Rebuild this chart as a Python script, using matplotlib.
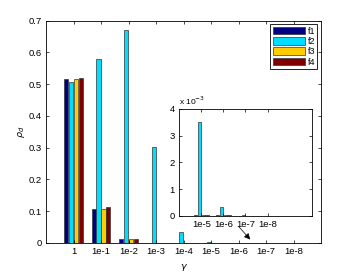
import numpy as np
import matplotlib
matplotlib.use('Agg')
import matplotlib.pyplot as plt
from matplotlib.ticker import FuncFormatter

plt.rcParams['font.family'] = ['Liberation Sans', 'DejaVu Sans']
plt.rcParams['font.size'] = 6.8

# data
gammas = ['1', '1e-1', '1e-2', '1e-3', '1e-4', '1e-5', '1e-6', '1e-7', '1e-8']
series = ['f1', 'f2', 'f3', 'f4']
f1 = [0.515, 0.107, 0.012, 0.0008, 0.0002, 0.00003, 0.00002, 0.00001, 0.00001]
f2 = [0.507, 0.580, 0.670, 0.303, 0.036, 0.0035, 0.00035, 0.00003, 0.00001]
f3 = [0.515, 0.107, 0.011, 0.0008, 0.0002, 0.00003, 0.00002, 0.00001, 0.00001]
f4 = [0.519, 0.112, 0.012, 0.0009, 0.0002, 0.00003, 0.00002, 0.00001, 0.00001]
colors = ['#000085', '#00DDFF', '#FFCC00', '#800000']

values = [f1, f2, f3, f4]
x = np.arange(1, len(gammas) + 1)
w = 0.155
offs = [-0.2625, -0.0875, 0.0875, 0.2625]

fig = plt.figure(figsize=(3.54, 2.73), dpi=100)
ax = fig.add_axes([0.130, 0.110, 0.777, 0.814])

for v, c, o, name in zip(values, colors, offs, series):
    ax.bar(x + o, v, width=w, color=c, edgecolor='#333333', linewidth=0.5, label=name)

ax.set_xlim(0, 10)
ax.set_ylim(0, 0.7)
ax.set_xticks(x)
ax.set_xticklabels(gammas)
ax.set_yticks(np.arange(0, 0.71, 0.1))
ax.set_yticklabels(['0', '0.1', '0.2', '0.3', '0.4', '0.5', '0.6', '0.7'])
ax.tick_params(direction='in', length=2.5, width=0.5, top=True, right=True, pad=3)
for s in ax.spines.values():
    s.set_linewidth(0.6)
ax.set_xlabel(r'$\gamma$', labelpad=4)
ax.set_ylabel(r'$\rho_d$', labelpad=1)

leg = ax.legend(loc='upper right', fancybox=False, edgecolor='black', framealpha=1,
                handlelength=3.6, handleheight=0.9, handletextpad=0.3,
                borderpad=0.25, labelspacing=0.15, borderaxespad=0.4, fontsize=6.5)
leg.get_frame().set_linewidth(0.6)

# inset
ins = fig.add_axes([0.506, 0.209, 0.375, 0.392])
for v, c, o in zip(values, colors, offs):
    ins.bar(x[5:] + o, v[5:], width=w, color=c, edgecolor='#333333', linewidth=0.5)
ins.set_xlim(5, 11)
ins.set_ylim(0, 0.004)
ins.set_xticks(x[5:])
ins.set_xticklabels(gammas[5:])
ins.set_yticks([0, 0.001, 0.002, 0.003, 0.004])
ins.yaxis.set_major_formatter(FuncFormatter(lambda v, p: '%d' % round(v * 1000)))
ins.tick_params(direction='in', length=2.5, width=0.5, top=True, right=True, pad=3)
for s in ins.spines.values():
    s.set_linewidth(0.6)
ins.text(0.0, 1.02, r'x 10$^{-3}$', transform=ins.transAxes, fontsize=6, ha='left', va='bottom')

# arrow
ax.annotate('', xy=(0.712, 0.115), xytext=(0.669, 0.178),
            xycoords='figure fraction', textcoords='figure fraction',
            arrowprops=dict(arrowstyle='-|>', color='black', lw=0.5, mutation_scale=9))

fig.savefig('out.png', dpi=100)
